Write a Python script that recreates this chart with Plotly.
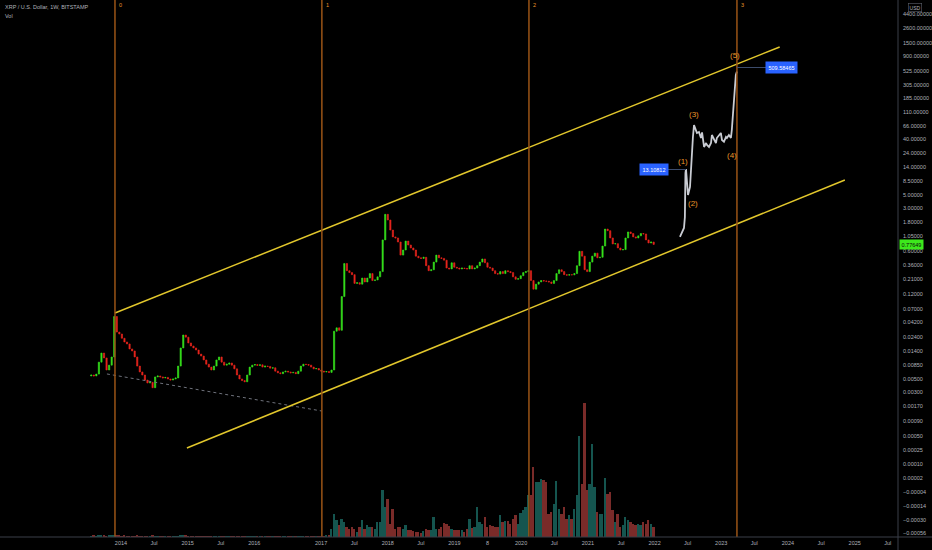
import math
import plotly.graph_objects as go
import pandas as pd

# ---------------- data ----------------
CANDLE_START = "2013-07-22"          # biweekly candles
FIRST_OPEN = 0.0056
CLOSES = [
    0.0058, 0.0056, 0.0060, 0.0094, 0.0132, 0.0110, 0.0070, 0.0084, 0.0114, 0.052,
    0.029, 0.027, 0.023, 0.020, 0.0186, 0.0154, 0.0143, 0.0114, 0.0081, 0.0065,
    0.0058, 0.0048, 0.0043, 0.0044, 0.0036, 0.0054, 0.0056, 0.0054, 0.0052, 0.0053,
    0.0050, 0.0048, 0.0050, 0.0052, 0.0081, 0.0160, 0.0260, 0.0240, 0.0193, 0.0172,
    0.0160, 0.0148, 0.0127, 0.0118, 0.0102, 0.0087, 0.0078, 0.0070, 0.0081, 0.0102,
    0.0114, 0.0094, 0.0084, 0.0087, 0.0091, 0.0084, 0.0073, 0.0058, 0.0050, 0.0047,
    0.0045, 0.0058, 0.0078, 0.0084, 0.0086, 0.0083, 0.0085, 0.0078, 0.0081, 0.0080,
    0.0075, 0.0076, 0.0067, 0.0063, 0.0061, 0.0065, 0.0067, 0.0065, 0.0063, 0.0064,
    0.0061, 0.0067, 0.0081, 0.0087, 0.0086, 0.0084, 0.0078, 0.0073, 0.0074, 0.0070,
    0.0067, 0.0065, 0.0066, 0.0064, 0.0070, 0.030, 0.034, 0.031, 0.110, 0.38,
    0.29, 0.27, 0.25, 0.18, 0.185, 0.175, 0.22, 0.19, 0.22, 0.26,
    0.20, 0.205, 0.23, 0.28, 0.92, 2.40, 1.94, 1.33, 1.03, 0.99,
    0.85, 0.52, 0.63, 0.88, 0.76, 0.68, 0.63, 0.50, 0.47, 0.46,
    0.48, 0.35, 0.29, 0.30, 0.40, 0.52, 0.47, 0.46, 0.43, 0.32,
    0.31, 0.39, 0.33, 0.32, 0.31, 0.32, 0.315, 0.31, 0.35, 0.31,
    0.32, 0.35, 0.40, 0.45, 0.39, 0.33, 0.32, 0.29, 0.26, 0.255,
    0.28, 0.26, 0.29, 0.28, 0.27, 0.23, 0.21, 0.215, 0.24, 0.27,
    0.28, 0.29, 0.20, 0.145, 0.175, 0.19, 0.20, 0.197, 0.195, 0.19,
    0.18, 0.20, 0.26, 0.30, 0.28, 0.25, 0.245, 0.25, 0.248, 0.26,
    0.35, 0.60, 0.50, 0.30, 0.28, 0.40, 0.50, 0.56, 0.47, 0.48,
    0.73, 1.38, 1.30, 0.99, 0.79, 0.80, 0.68, 0.63, 0.64, 0.99,
    1.24, 1.17, 1.03, 0.99, 1.07, 1.17, 1.15, 0.92, 0.82, 0.85, 0.77649,
]
VOLUMES = [
    10, 12, 9, 14, 16, 11, 10, 12, 15, 20,
    14, 12, 10, 11, 9, 10, 8, 9, 11, 10,
    9, 8, 10, 9, 12, 10, 8, 9, 8, 7,
    8, 9, 8, 7, 10, 14, 16, 12, 10, 9,
    8, 8, 7, 8, 9, 7, 8, 8, 9, 10,
    9, 8, 8, 7, 8, 7, 8, 9, 8, 8,
    9, 10, 8, 7, 8, 7, 8, 8, 7, 8,
    7, 8, 7, 8, 8, 7, 8, 7, 8, 8,
    7, 8, 9, 8, 8, 7, 8, 7, 8, 8,
    9, 10, 12, 15,
    80, 230, 170, 120, 180, 150,
    100, 80, 100, 80, 50, 100, 170, 80, 120, 100,
    100, 80, 150, 150, 470, 300, 380, 130, 280, 80,
    100, 100, 80, 120, 70, 70, 60, 50, 50, 40,
    60, 80, 70, 70, 200, 80, 80, 100, 140, 130,
    110, 80, 70, 70, 70, 70, 50, 80, 180, 90,
    100, 300, 150, 130, 200, 100, 120, 110, 100, 100,
    220, 150, 160, 160, 130, 180, 220, 130, 240, 270,
    300, 420, 420, 700, 550, 550, 580, 570, 550, 230,
    250, 330, 560, 280, 230, 300, 180, 220, 180, 280,
    420, 1010, 530, 1340, 470, 530, 930, 500, 250, 230,
    230, 590, 430, 450, 270, 150, 230, 100, 120, 200,
    170, 150, 130, 120, 130, 120, 150, 130, 170, 130, 100,
]

# projected path (bars pattern)
PROJ_DATES = [
    "2022-05-20", "2022-05-31", "2022-06-11", "2022-06-16", "2022-06-16", "2022-06-19",
    "2022-06-22", "2022-06-27", "2022-07-03", "2022-07-14", "2022-07-19", "2022-07-25",
    "2022-07-30", "2022-08-05", "2022-08-16", "2022-08-21", "2022-09-01", "2022-09-12",
    "2022-09-18", "2022-09-29", "2022-10-10", "2022-10-15", "2022-10-26", "2022-11-06",
    "2022-11-11", "2022-11-22", "2022-12-03", "2022-12-08", "2022-12-19", "2022-12-30",
    "2023-01-05", "2023-01-16", "2023-01-27", "2023-02-01", "2023-02-12", "2023-02-23",
    "2023-02-28", "2023-03-06", "2023-03-09", "2023-03-11", "2023-03-17", "2023-03-22",
    "2023-03-28",
]
PROJ_PRICES = [
    1.03, 1.24, 1.44, 2.17, 4.6, 11.3,
    13.10812, 7.8, 4.95, 6.7, 14.2, 30.0,
    43.6, 68.0, 56.7, 50.7, 52.6, 42.0,
    52.0, 30.0, 34.8, 32.3, 30.0, 34.8,
    47.0, 39.0, 34.8, 42.0, 47.0, 50.7,
    39.0, 36.5, 43.6, 42.0, 47.0, 42.0,
    56.7, 107.0, 156.0, 195.0, 330.0, 447.0,
    509.58465,
]

CHANNEL_UPPER_DATES = ["2013-11-29", "2023-11-17"]
CHANNEL_UPPER_PRICES = [0.0593, 1276.0]
CHANNEL_LOWER_DATES = ["2014-12-28", "2024-11-08"]
CHANNEL_LOWER_PRICES = [0.000376, 8.7]
DASHED_DATES = ["2013-10-16", "2017-01-06"]
DASHED_PRICES = [0.00603, 0.0015]

CYCLE_DATES = ["2013-11-29", "2017-01-05", "2020-02-13", "2023-03-28"]
CYCLE_LABELS = ["0", "1", "2", "3"]

WAVE_LABELS = ["(1)", "(2)", "(3)", "(4)", "(5)"]
WAVE_DATES = ["2022-06-05", "2022-07-30", "2022-08-05", "2023-02-28", "2023-03-17"]
WAVE_PRICES = [17.7, 3.67, 99.6, 22.2, 910.0]

PRICE_TICKS = [7400, 4400, 2600, 1500, 900, 525, 305, 185, 110, 66, 40, 24, 14, 8.5,
               5, 3, 1.8, 1.05, 0.6, 0.36, 0.21, 0.12, 0.07, 0.042, 0.024, 0.014,
               0.0085, 0.005]
VOL_TICK_TEXT = ["0.00300", "0.00170", "0.00090", "0.00050", "0.00025", "0.00010",
                 "0.00002", "\u22120.00004", "\u22120.00014", "\u22120.00030", "\u22120.00056"]
VOL_TICK_PIX = [392, 406, 421, 436, 450, 464, 478, 492, 506, 520, 533]

X_TICK_DATES = ["2014-01-01", "2014-07-01", "2015-01-01", "2015-07-01", "2016-01-01",
                "2017-01-01", "2017-07-01", "2018-01-01", "2018-07-01", "2019-01-01",
                "2019-07-01", "2020-01-01", "2020-07-01", "2021-01-01", "2021-07-01",
                "2022-01-01", "2022-07-01", "2023-01-01", "2023-07-01", "2024-01-01",
                "2024-07-01", "2025-01-01", "2025-07-01"]
X_TICK_TEXT = ["2014", "Jul", "2015", "Jul", "2016", "2017", "Jul", "2018", "Jul", "2019",
               "8", "2020", "Jul", "2021", "Jul", "2022", "Jul", "2023", "Jul", "2024",
               "Jul", "2025", "Jul"]

LAST_PRICE_TEXT = "0.77649"
LABEL_1_TEXT = "13.10812"
LABEL_5_TEXT = "509.58465"

# ---------------- styling ----------------
BG = "#000000"
UP = "#35e21c"
DOWN = "#e8251d"
VOL_UP = "#15554f"
VOL_DOWN = "#7a2b29"
CYCLE_COLOR = "#9a5416"
CHANNEL_COLOR = "#e2c72c"
WAVE_COLOR = "#e8962a"
TXT = "#aeb1ba"
FONT = "Liberation Sans"

PLOT_W, PLOT_H = 898, 537   # plot area in pixels


def paper(px, py):
    return px / PLOT_W, (PLOT_H - py) / PLOT_H


dates = pd.date_range(CANDLE_START, periods=len(CLOSES), freq="14D")
opens = [FIRST_OPEN] + CLOSES[:-1]
highs = [max(o, c) for o, c in zip(opens, CLOSES)]
lows = [min(o, c) for o, c in zip(opens, CLOSES)]
vol_colors = [VOL_UP if c >= o else VOL_DOWN for o, c in zip(opens, CLOSES)]

fig = go.Figure()

fig.add_trace(go.Bar(
    x=dates, y=VOLUMES, yaxis="y2", marker=dict(color=vol_colors, line=dict(width=0)),
    width=10 * 24 * 3600 * 1000, hoverinfo="skip", showlegend=False))

fig.add_trace(go.Candlestick(
    x=dates, open=opens, high=highs, low=lows, close=CLOSES,
    increasing=dict(line=dict(color=UP, width=0.6), fillcolor=UP),
    decreasing=dict(line=dict(color=DOWN, width=0.6), fillcolor=DOWN),
    whiskerwidth=0, hoverinfo="skip", showlegend=False))

fig.add_trace(go.Scatter(x=DASHED_DATES, y=DASHED_PRICES, mode="lines",
                         line=dict(color="#6f727c", width=1, dash="dot"),
                         hoverinfo="skip", showlegend=False))
for d, p in ((CHANNEL_UPPER_DATES, CHANNEL_UPPER_PRICES), (CHANNEL_LOWER_DATES, CHANNEL_LOWER_PRICES)):
    fig.add_trace(go.Scatter(x=d, y=p, mode="lines", line=dict(color=CHANNEL_COLOR, width=1.5),
                             hoverinfo="skip", showlegend=False))

fig.add_trace(go.Scatter(x=PROJ_DATES, y=PROJ_PRICES, mode="lines",
                         line=dict(color="#c9ccd3", width=1.8),
                         hoverinfo="skip", showlegend=False))

shapes = []
for d in CYCLE_DATES:
    shapes.append(dict(type="line", xref="x", yref="paper", x0=d, x1=d, y0=0, y1=1,
                       line=dict(color=CYCLE_COLOR, width=1.5)))
# axis borders
shapes.append(dict(type="line", xref="paper", yref="paper", x0=1, x1=1, y0=-13 / PLOT_H, y1=1,
                   line=dict(color="#3a3e48", width=1)))
shapes.append(dict(type="line", xref="paper", yref="paper", x0=0, x1=932 / PLOT_W, y0=0, y1=0,
                   line=dict(color="#3a3e48", width=1)))
# connectors for price labels
x0, y0 = paper(668, 169.5); x1, y1 = paper(686, 169.5)
shapes.append(dict(type="line", xref="paper", yref="paper", x0=x0, x1=x1, y0=y0, y1=y1,
                   line=dict(color="#3c4c6c", width=1)))
x0, y0 = paper(737, 67.5); x1, y1 = paper(766, 67.5)
shapes.append(dict(type="line", xref="paper", yref="paper", x0=x0, x1=x1, y0=y0, y1=y1,
                   line=dict(color="#3c4c6c", width=1)))

ann = []
hx, hy = paper(3, 7)
ann.append(dict(x=hx, y=hy, xref="paper", yref="paper", text="XRP / U.S. Dollar, 1W, BITSTAMP",
                showarrow=False, xanchor="left", yanchor="middle", font=dict(size=5.5, color=TXT)))
hx, hy = paper(3, 16)
ann.append(dict(x=hx, y=hy, xref="paper", yref="paper", text="Vol",
                showarrow=False, xanchor="left", yanchor="middle", font=dict(size=5.5, color=TXT)))
for d, t in zip(CYCLE_DATES, CYCLE_LABELS):
    ann.append(dict(x=d, y=paper(0, 5)[1], xref="x", yref="paper", text=t, showarrow=False,
                    xanchor="left", yanchor="middle", xshift=2, font=dict(size=5.5, color=WAVE_COLOR)))
for d, p, t in zip(WAVE_DATES, WAVE_PRICES, WAVE_LABELS):
    ann.append(dict(x=d, y=math.log10(p), xref="x", yref="y", text=t, showarrow=False,
                    xanchor="center", yanchor="middle", font=dict(size=8, color=WAVE_COLOR)))
bx, by = paper(654, 169.5)
ann.append(dict(x=bx, y=by, xref="paper", yref="paper", text=LABEL_1_TEXT, showarrow=False,
                xanchor="center", yanchor="middle", bgcolor="#2962ff", borderpad=2.5,
                font=dict(size=5.5, color="#ffffff")))
bx, by = paper(781, 67.5)
ann.append(dict(x=bx, y=by, xref="paper", yref="paper", text=LABEL_5_TEXT, showarrow=False,
                xanchor="center", yanchor="middle", bgcolor="#2962ff", borderpad=2.5,
                font=dict(size=5.5, color="#ffffff")))
ann.append(dict(x=1.0, y=math.log10(CLOSES[-1]), xref="paper", yref="y", text=LAST_PRICE_TEXT,
                showarrow=False, xanchor="left", yanchor="middle", xshift=1, bgcolor="#3de81c",
                borderpad=1.5, font=dict(size=5.5, color="#0b0b0b")))
ux, uy = paper(915, 7)
ann.append(dict(x=ux, y=uy, xref="paper", yref="paper", text="USD", showarrow=False,
                xanchor="center", yanchor="middle", bordercolor="#5d606b", borderwidth=0.6,
                borderpad=1, font=dict(size=5, color=TXT)))

fig.update_layout(
    width=932, height=550,
    margin=dict(l=0, r=34, t=0, b=13),
    paper_bgcolor=BG, plot_bgcolor=BG,
    font=dict(family=FONT, color=TXT, size=5.5),
    showlegend=False,
    bargap=0,
    shapes=shapes, annotations=ann,
    xaxis=dict(type="date", range=["2012-03-09 10:00", "2025-08-26"],
               rangeslider=dict(visible=False), showgrid=False, zeroline=False,
               showline=False, tickmode="array", tickvals=X_TICK_DATES, ticktext=X_TICK_TEXT,
               ticks="", tickfont=dict(size=5.5, color=TXT), automargin=False,
               ticklabelstandoff=1),
    yaxis=dict(type="log", range=[-4.875, 3.871], side="right", showgrid=False,
               zeroline=False, showline=False, tickmode="array", tickvals=PRICE_TICKS,
               ticktext=[f"{v:.5f}" for v in PRICE_TICKS], ticks="",
               tickfont=dict(size=5.5, color=TXT), automargin=False, ticklabelstandoff=4),
    yaxis2=dict(overlaying="y", side="right", range=[0, PLOT_H * 10], showgrid=False,
                zeroline=False, showline=False, tickmode="array",
                tickvals=[(PLOT_H - p) * 10 for p in VOL_TICK_PIX], ticktext=VOL_TICK_TEXT,
                ticks="", tickfont=dict(size=5.5, color=TXT), automargin=False,
                ticklabelstandoff=4),
)

fig.write_html(
    "out.html",
    config={"displayModeBar": False},
    post_script="document.body.style.margin='0px';document.body.style.background='#000000';",
)
